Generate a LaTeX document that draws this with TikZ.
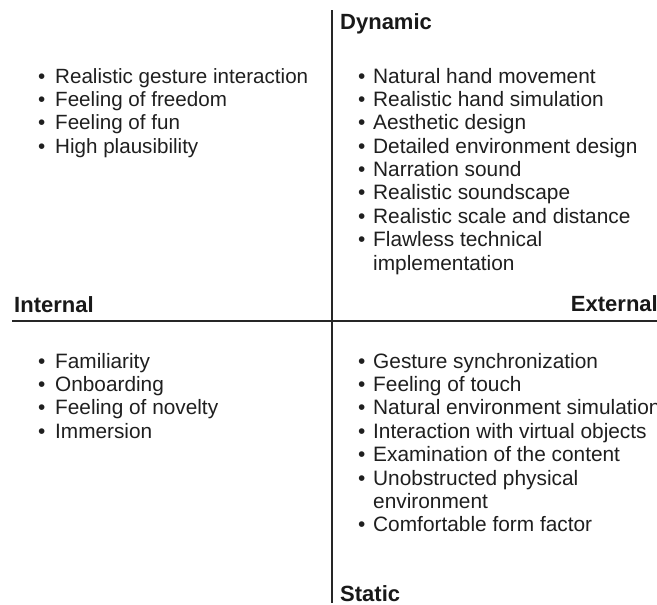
\documentclass[tikz,border=0pt]{standalone}
\usepackage{fontspec}
\setmainfont{Liberation Sans}
\begin{document}
\begin{tikzpicture}[x=1pt,y=-1pt,
  axis/.style={line width=1.4pt,draw=black!85},
  heading/.style={inner sep=0pt,font=\fontsize{22}{26}\selectfont\bfseries,text=black!90},
  itemlist/.style={inner sep=0pt,anchor=base west,font=\fontsize{#1}{23.4}\selectfont,text=black!88},
  itemlist/.default=20.8]
  % page frame and clipping
  \useasboundingbox (0,0) rectangle (657,605);
  \clip (0,0) rectangle (657,605);
  \fill[white] (0,0) rectangle (657,605);

  % axes
  \coordinate (vtop) at (332,10);
  \coordinate (vbot) at (332,603);
  \coordinate (hleft) at (12,321);
  \coordinate (hright) at (657,321);
  \draw[axis] (vtop) -- (vbot);
  \draw[axis] (hleft) -- (hright);

  % axis labels
  \node[heading,anchor=base west] (dyn) at (340,29) {Dynamic};
  \node[heading,anchor=base west] (stat) at (340,601) {Static};
  \node[heading,anchor=base west] (int) at (14,312) {Internal};
  \node[heading,anchor=base east] (ext) at (658,311) {External};

  % quadrant lists
  \node[itemlist=20.6] (tl) at (38,83) {\begin{tabular}[t]{@{}l@{\hspace{9.8pt}}l@{}}
    •&Realistic gesture interaction\\
    •&Feeling of freedom\\
    •&Feeling of fun\\
    •&High plausibility
  \end{tabular}};

  \node[itemlist=20.85] (tr) at (358,83) {\begin{tabular}[t]{@{}l@{\hspace{7.7pt}}l@{}}
    •&Natural hand movement\\
    •&Realistic hand simulation\\
    •&Aesthetic design\\
    •&Detailed environment design\\
    •&Narration sound\\
    •&Realistic soundscape\\
    •&Realistic scale and distance\\
    •&Flawless technical\\
     &implementation
  \end{tabular}};

  \node[itemlist=20.8] (bl) at (38,368) {\begin{tabular}[t]{@{}l@{\hspace{9.7pt}}l@{}}
    •&Familiarity\\
    •&Onboarding\\
    •&Feeling of novelty\\
    •&Immersion
  \end{tabular}};

  \node[itemlist=20.85] (br) at (358,368) {\begin{tabular}[t]{@{}l@{\hspace{7.7pt}}l@{}}
    •&Gesture synchronization\\
    •&Feeling of touch\\
    •&Natural environment simulation\\
    •&Interaction with virtual objects\\
    •&Examination of the content\\
    •&Unobstructed physical\\
     &environment\\
    •&Comfortable form factor
  \end{tabular}};
\end{tikzpicture}
\end{document}
